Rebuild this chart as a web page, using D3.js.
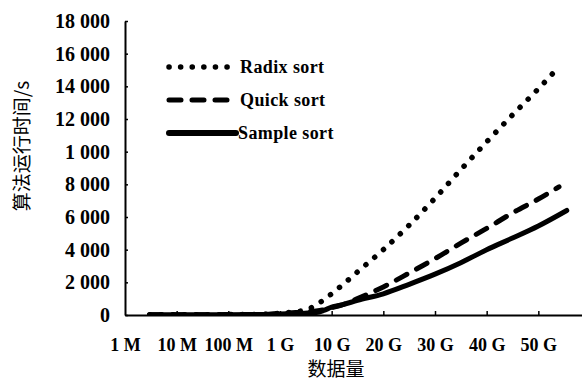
<!DOCTYPE html>
<html>
<head>
<meta charset="utf-8">
<script src="https://cdn.jsdelivr.net/npm/d3@7"></script>
<style>
    html, body { margin: 0; padding: 0; background: #fff; }
    svg { display: block; }
    .tick text { font-family: "Liberation Serif", serif; font-weight: bold; fill: #000; }
</style>
</head>
<body>
<svg id="chart" width="582" height="382"></svg>
<script>
// data sizes in G, run time in seconds
const xTickLabels = ['1 M', '10 M', '100 M', '1 G', '10 G', '20 G', '30 G', '40 G', '50 G'];
const xTickSizes = [0.001, 0.01, 0.1, 1, 10, 20, 30, 40, 50];
const yTicks = [0, 2000, 4000, 6000, 8000, 10000, 12000, 14000, 16000, 18000];
const yTickLabels = ['0', '2 000', '4 000', '6 000', '8 000', '1 000', '12 000', '14 000', '16 000', '18 000'];

const radixSizes = [0.003, 0.5, 1, 2, 3, 5, 7, 10, 12, 15, 20, 25, 30, 35, 40, 45, 50, 54];
const radixTimes = [10, 40, 110, 200, 290, 600, 930, 1300, 1820, 2640, 4000, 5500, 7150, 8900, 10600, 12250, 13850, 15200];

const quickSizes = [0.003, 0.5, 1, 2, 3, 5, 7, 10, 12, 15, 20, 25, 30, 35, 40, 45, 50, 54];
const quickTimes = [10, 40, 100, 150, 200, 250, 320, 450, 620, 1000, 1720, 2570, 3450, 4400, 5300, 6250, 7100, 7850];

const sampleSizes = [0.003, 0.5, 1, 2, 3, 5, 7, 10, 12, 15, 20, 25, 30, 35, 40, 45, 50, 55.5];
const sampleTimes = [10, 30, 60, 90, 110, 150, 280, 480, 620, 900, 1300, 1880, 2500, 3200, 4000, 4710, 5450, 6400];

const seriesNames = ['Radix sort', 'Quick sort', 'Sample sort'];

const plotLeft = 125, plotRight = 590, plotTop = 21, plotBottom = 315;

const svg = d3.select('#chart');

// piecewise x: log up to 10 G, linear after
const logIdx = d3.scaleLog().domain([0.001, 10]).range([0, 4]);
const linIdx = d3.scaleLinear().domain([10, 50]).range([4, 8]);
const xPos = d3.scaleLinear().domain([0, 9]).range([plotLeft, plotRight]);
const x = g => xPos(g <= 10 ? logIdx(g) : linIdx(g));

const y = d3.scaleLinear().domain([0, 18000]).range([plotBottom, plotTop]);

const styles = {
    'Radix sort': {dash: '0.1 11.5', width: 5.5},
    'Quick sort': {dash: '12 11', width: 5},
    'Sample sort': {dash: null, width: 5}
};

const series = [
    {name: 'Sample sort', sizes: sampleSizes, times: sampleTimes},
    {name: 'Quick sort', sizes: quickSizes, times: quickTimes},
    {name: 'Radix sort', sizes: radixSizes, times: radixTimes}
];

svg.append('defs').append('clipPath').attr('id', 'plot-clip')
    .append('rect')
    .attr('x', plotLeft).attr('y', 0)
    .attr('width', 582 - plotLeft).attr('height', plotBottom);

const line = d3.line()
    .x(d => x(d[0]))
    .y(d => y(d[1]))
    .curve(d3.curveMonotoneX);

svg.append('g')
    .attr('clip-path', 'url(#plot-clip)')
    .selectAll('path')
    .data(series)
    .enter()
    .append('path')
    .attr('d', s => line(s.sizes.map((v, i) => [v, s.times[i]])))
    .attr('fill', 'none')
    .attr('stroke', '#000')
    .attr('stroke-width', s => styles[s.name].width)
    .attr('stroke-linecap', 'round')
    .attr('stroke-linejoin', 'round')
    .attr('stroke-dasharray', s => styles[s.name].dash);

// axes
const xAxis = d3.axisBottom(xPos)
    .tickValues(d3.range(xTickLabels.length))
    .tickFormat(i => xTickLabels[i])
    .tickSizeInner(-4)
    .tickSizeOuter(0)
    .tickPadding(23);

const gx = svg.append('g')
    .attr('transform', `translate(0, ${plotBottom})`)
    .call(xAxis);
gx.selectAll('.tick text').attr('font-size', 18);
gx.select('.tick line').remove();

const yAxis = d3.axisLeft(y)
    .tickValues(yTicks)
    .tickFormat((d, i) => yTickLabels[i])
    .tickSizeInner(-3)
    .tickSizeOuter(0)
    .tickPadding(15);

const gy = svg.append('g')
    .attr('transform', `translate(${plotLeft}, 0)`)
    .call(yAxis);
gy.selectAll('.tick text').attr('font-size', 20);

svg.selectAll('.domain').attr('stroke', '#000').attr('stroke-width', 2);
svg.selectAll('.tick line').attr('stroke', '#000').attr('stroke-width', 1.5);

// axis titles
svg.append('text')
    .attr('x', 336)
    .attr('y', 376)
    .attr('text-anchor', 'middle')
    .attr('font-family', '"Noto Sans CJK SC", sans-serif')
    .attr('font-size', 19)
    .text('数据量');

svg.append('text')
    .attr('transform', 'translate(29, 146) rotate(-90)')
    .attr('text-anchor', 'middle')
    .attr('font-family', '"Noto Sans CJK SC", sans-serif')
    .attr('font-size', 19)
    .text('算法运行时间/s');

// legend
const legend = svg.append('g')
    .selectAll('g')
    .data(seriesNames)
    .enter()
    .append('g')
    .attr('transform', (_, i) => `translate(0, ${67 + i * 33})`);

legend.append('line')
    .attr('x1', 169).attr('x2', (d, i) => i === 2 ? 236 : 231)
    .attr('y1', 0).attr('y2', 0)
    .attr('stroke', '#000')
    .attr('stroke-width', d => d === 'Sample sort' ? 6 : styles[d].width)
    .attr('stroke-linecap', 'round')
    .attr('stroke-dasharray', d => styles[d].dash);

legend.append('text')
    .attr('x', (d, i) => i === 2 ? 238 : 240)
    .attr('y', 6)
    .attr('font-family', '"Liberation Serif", serif')
    .attr('font-weight', 'bold')
    .attr('font-size', 18)
    .attr('letter-spacing', 0.4)
    .text(d => d);
</script>
</body>
</html>
